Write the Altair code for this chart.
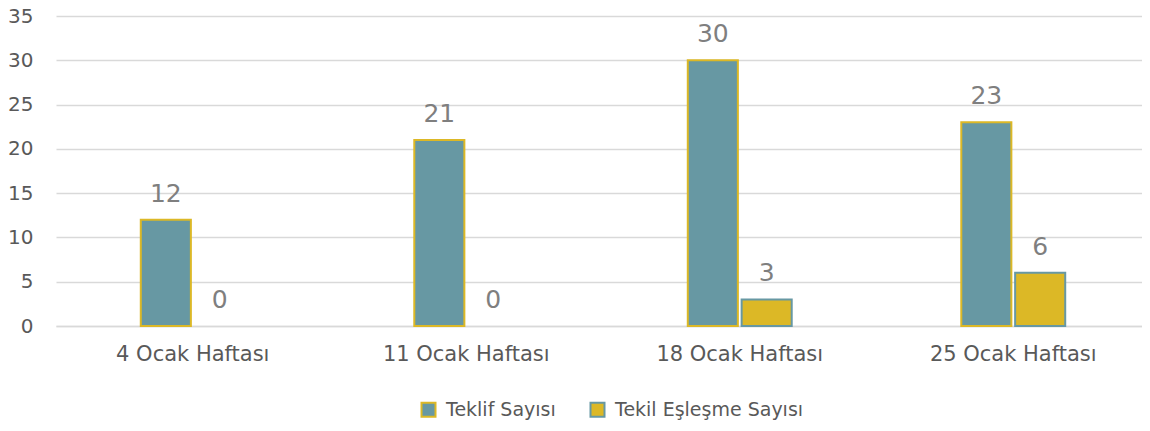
import altair as alt
import pandas as pd

weeks = ["4 Ocak Haftası", "11 Ocak Haftası", "18 Ocak Haftası", "25 Ocak Haftası"]
series = ["Teklif Sayısı", "Tekil Eşleşme Sayısı"]
teklif = [12, 21, 30, 23]
tekil = [0, 0, 3, 6]

rows = []
for w, a, b in zip(weeks, teklif, tekil):
    rows.append({"week": w, "series": series[0], "value": a})
    rows.append({"week": w, "series": series[1], "value": b})
df = pd.DataFrame(rows)

FONT = "DejaVu Sans"
fill_colors = ["#6798A3", "#DCB826"]
stroke_colors = ["#DCB826", "#6798A3"]

x = alt.X("week:N", sort=weeks, title=None,
          scale=alt.Scale(paddingInner=0.62, paddingOuter=0.31, range=[0, 1094]),
          axis=alt.Axis(labelAngle=0, labelFontSize=21, labelColor="#595959",
                        labelFont=FONT, labelPadding=17, ticks=False,
                        domainColor="#D9D9D9", domainWidth=1.5))
xo = alt.XOffset("series:N", sort=series, scale=alt.Scale(paddingInner=0.07))
y = alt.Y("value:Q", title=None,
          scale=alt.Scale(domain=[0, 35], nice=False),
          axis=alt.Axis(values=[0, 5, 10, 15, 20, 25, 30, 35], labelFontSize=20,
                        labelColor="#595959", labelFont=FONT, domain=False,
                        ticks=False, labelPadding=23, gridColor="#D9D9D9",
                        gridWidth=1.5))

base = alt.Chart(df)

bars = base.mark_bar(strokeWidth=2).encode(
    x=x, xOffset=xo, y=y,
    fill=alt.Fill("series:N", sort=series,
                  scale=alt.Scale(domain=series, range=fill_colors),
                  legend=alt.Legend(title=None, orient="none", direction="horizontal",
                                    legendX=363, legendY=384, labelFontSize=19,
                                    labelColor="#595959", labelFont=FONT,
                                    labelLimit=400,
                                    symbolType="square", symbolSize=196,
                                    symbolStrokeWidth=2, columnPadding=30,
                                    labelOffset=8)),
    stroke=alt.Stroke("series:N", sort=series,
                      scale=alt.Scale(domain=series, range=stroke_colors),
                      legend=None),
).transform_filter("datum.value > 0")

labels = base.mark_text(fontSize=25, color="#7F7F7F", font=FONT, dy=-18,
                        baseline="alphabetic").encode(
    x=x, xOffset=xo, y=y, text=alt.Text("value:Q"))

chart = alt.layer(bars, labels).properties(
    width=1086, height=310,
    autosize=alt.AutoSizeParams(type="none"),
    padding={"left": 48, "top": 8, "right": 0, "bottom": 95},
).configure_view(stroke=None)

chart.save("out.html", embed_options={"renderer": "svg", "actions": False})
